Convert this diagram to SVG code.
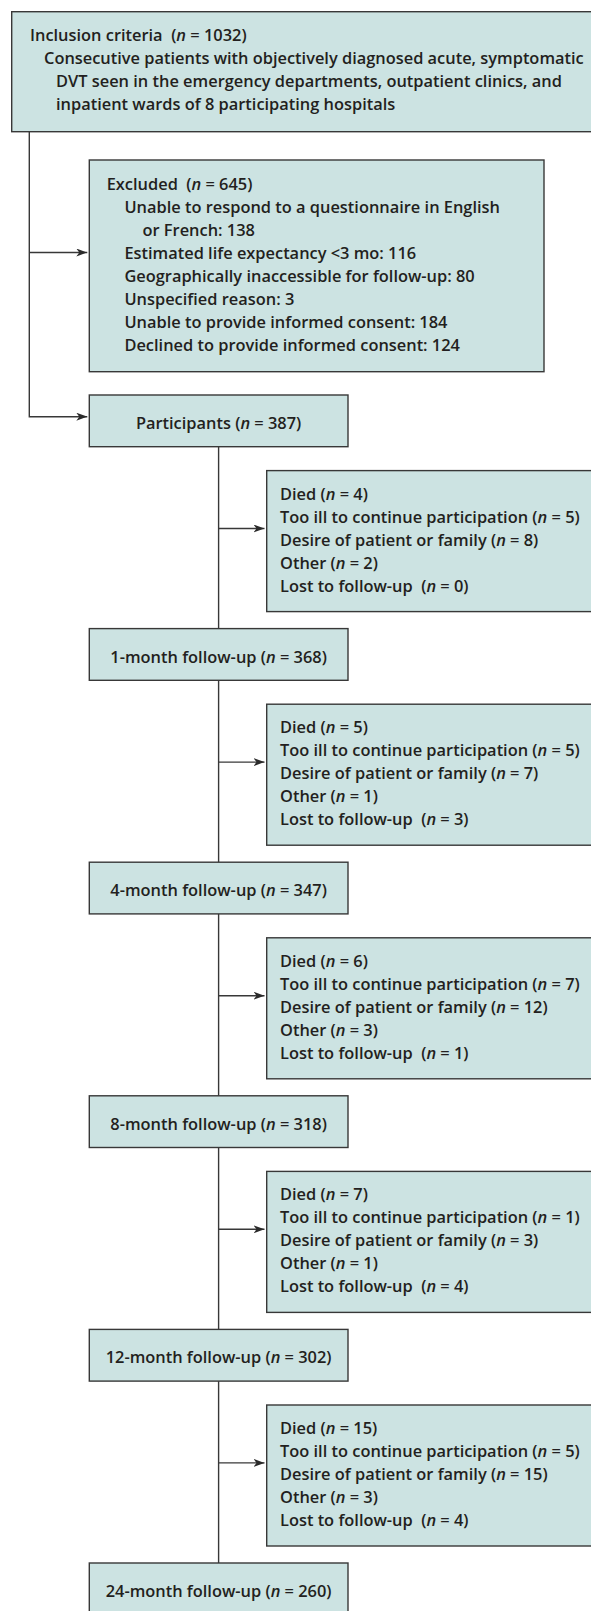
<svg xmlns="http://www.w3.org/2000/svg" width="591" height="1611" viewBox="0 0 591 1611">
<style>
.box{fill:#cce3e2;stroke:#383838;stroke-width:1.4}
.t{font-family:"Open Sans","Noto Sans",sans-serif;font-size:16.4px;font-weight:600;fill:#231f20}
.c{text-anchor:middle}
.i{font-style:italic}
.con{stroke:#383838;stroke-width:1.4;fill:none}
</style>
<defs>
<marker id="ah" viewBox="0 0 11 8" refX="11" refY="4" markerWidth="11" markerHeight="8" markerUnits="userSpaceOnUse" orient="auto">
<path d="M0,0 L11,4 L0,8 L3,4 Z" fill="#2a2a2a"/>
</marker>
</defs>
<rect width="591" height="1611" fill="#ffffff"/>

<g id="connectors">
<path class="con" d="M29.3,131.7 V416.7 H87.3" marker-end="url(#ah)"/>
<path class="con" d="M29.3,252.5 H87.3" marker-end="url(#ah)"/>
<path class="con" d="M218.6,446.7 V628.6"/>
<path class="con" d="M218.6,680.3 V862.2"/>
<path class="con" d="M218.6,913.9 V1095.8"/>
<path class="con" d="M218.6,1147.5 V1329.4"/>
<path class="con" d="M218.6,1381.1 V1563"/>
<path class="con" d="M218.6,528.5 H264.5" marker-end="url(#ah)"/>
<path class="con" d="M218.6,762.1 H264.5" marker-end="url(#ah)"/>
<path class="con" d="M218.6,995.7 H264.5" marker-end="url(#ah)"/>
<path class="con" d="M218.6,1229.3 H264.5" marker-end="url(#ah)"/>
<path class="con" d="M218.6,1462.9 H264.5" marker-end="url(#ah)"/>
</g>

<g id="inclusion">
<rect class="box" x="11.7" y="11.7" width="590" height="120"/>
<text class="t" x="30" y="41.2">Inclusion criteria&#160; (<tspan class="i">n</tspan> = 1032)</text>
<text class="t" x="44" y="64.2">Consecutive patients with objectively diagnosed acute, symptomatic</text>
<text class="t" x="56" y="87.2">DVT seen in the emergency departments, outpatient clinics, and</text>
<text class="t" x="56" y="110.2">inpatient wards of 8 participating hospitals</text>
</g>

<g id="excluded">
<rect class="box" x="89.3" y="160" width="454.7" height="211.7"/>
<text class="t" x="106.7" y="189.5">Excluded&#160; (<tspan class="i">n</tspan> = 645)</text>
<text class="t" x="124.4" y="212.5">Unable to respond to a questionnaire in English</text>
<text class="t" x="142.5" y="235.5">or French: 138</text>
<text class="t" x="124.4" y="258.5">Estimated life expectancy &lt;3 mo: 116</text>
<text class="t" x="124.4" y="281.5">Geographically inaccessible for follow-up: 80</text>
<text class="t" x="124.4" y="304.5">Unspecified reason: 3</text>
<text class="t" x="124.4" y="327.5">Unable to provide informed consent: 184</text>
<text class="t" x="124.4" y="350.5">Declined to provide informed consent: 124</text>
</g>

<g id="participants">
<rect class="box" x="89.3" y="395" width="258.7" height="51.7"/>
<text class="t c" x="218.6" y="429">Participants (<tspan class="i">n</tspan> = 387)</text>
</g>

<g id="withdrawn1">
<rect class="box" x="266.7" y="470.6" width="340" height="141"/>
<text class="t" x="280" y="499.6">Died (<tspan class="i">n</tspan> = 4)</text>
<text class="t" x="280" y="522.6">Too ill to continue participation (<tspan class="i">n</tspan> = 5)</text>
<text class="t" x="280" y="545.6">Desire of patient or family (<tspan class="i">n</tspan> = 8)</text>
<text class="t" x="280" y="568.6">Other (<tspan class="i">n</tspan> = 2)</text>
<text class="t" x="280" y="591.6">Lost to follow-up&#160; (<tspan class="i">n</tspan> = 0)</text>
</g>

<g id="followup1">
<rect class="box" x="89.3" y="628.6" width="258.7" height="51.7"/>
<text class="t c" x="218.6" y="662.6">1-month follow-up (<tspan class="i">n</tspan> = 368)</text>
</g>

<g id="withdrawn2">
<rect class="box" x="266.7" y="704.2" width="340" height="141"/>
<text class="t" x="280" y="733.2">Died (<tspan class="i">n</tspan> = 5)</text>
<text class="t" x="280" y="756.2">Too ill to continue participation (<tspan class="i">n</tspan> = 5)</text>
<text class="t" x="280" y="779.2">Desire of patient or family (<tspan class="i">n</tspan> = 7)</text>
<text class="t" x="280" y="802.2">Other (<tspan class="i">n</tspan> = 1)</text>
<text class="t" x="280" y="825.2">Lost to follow-up&#160; (<tspan class="i">n</tspan> = 3)</text>
</g>

<g id="followup4">
<rect class="box" x="89.3" y="862.2" width="258.7" height="51.7"/>
<text class="t c" x="218.6" y="896.2">4-month follow-up (<tspan class="i">n</tspan> = 347)</text>
</g>

<g id="withdrawn3">
<rect class="box" x="266.7" y="937.8" width="340" height="141"/>
<text class="t" x="280" y="966.8">Died (<tspan class="i">n</tspan> = 6)</text>
<text class="t" x="280" y="989.8">Too ill to continue participation (<tspan class="i">n</tspan> = 7)</text>
<text class="t" x="280" y="1012.8">Desire of patient or family (<tspan class="i">n</tspan> = 12)</text>
<text class="t" x="280" y="1035.8">Other (<tspan class="i">n</tspan> = 3)</text>
<text class="t" x="280" y="1058.8">Lost to follow-up&#160; (<tspan class="i">n</tspan> = 1)</text>
</g>

<g id="followup8">
<rect class="box" x="89.3" y="1095.8" width="258.7" height="51.7"/>
<text class="t c" x="218.6" y="1129.8">8-month follow-up (<tspan class="i">n</tspan> = 318)</text>
</g>

<g id="withdrawn4">
<rect class="box" x="266.7" y="1171.4" width="340" height="141"/>
<text class="t" x="280" y="1200.4">Died (<tspan class="i">n</tspan> = 7)</text>
<text class="t" x="280" y="1223.4">Too ill to continue participation (<tspan class="i">n</tspan> = 1)</text>
<text class="t" x="280" y="1246.4">Desire of patient or family (<tspan class="i">n</tspan> = 3)</text>
<text class="t" x="280" y="1269.4">Other (<tspan class="i">n</tspan> = 1)</text>
<text class="t" x="280" y="1292.4">Lost to follow-up&#160; (<tspan class="i">n</tspan> = 4)</text>
</g>

<g id="followup12">
<rect class="box" x="89.3" y="1329.4" width="258.7" height="51.7"/>
<text class="t c" x="218.6" y="1363.4">12-month follow-up (<tspan class="i">n</tspan> = 302)</text>
</g>

<g id="withdrawn5">
<rect class="box" x="266.7" y="1405" width="340" height="141"/>
<text class="t" x="280" y="1434">Died (<tspan class="i">n</tspan> = 15)</text>
<text class="t" x="280" y="1457">Too ill to continue participation (<tspan class="i">n</tspan> = 5)</text>
<text class="t" x="280" y="1480">Desire of patient or family (<tspan class="i">n</tspan> = 15)</text>
<text class="t" x="280" y="1503">Other (<tspan class="i">n</tspan> = 3)</text>
<text class="t" x="280" y="1526">Lost to follow-up&#160; (<tspan class="i">n</tspan> = 4)</text>
</g>

<g id="followup24">
<rect class="box" x="89.3" y="1563" width="258.7" height="60"/>
<text class="t c" x="218.6" y="1597">24-month follow-up (<tspan class="i">n</tspan> = 260)</text>
</g>
</svg>
